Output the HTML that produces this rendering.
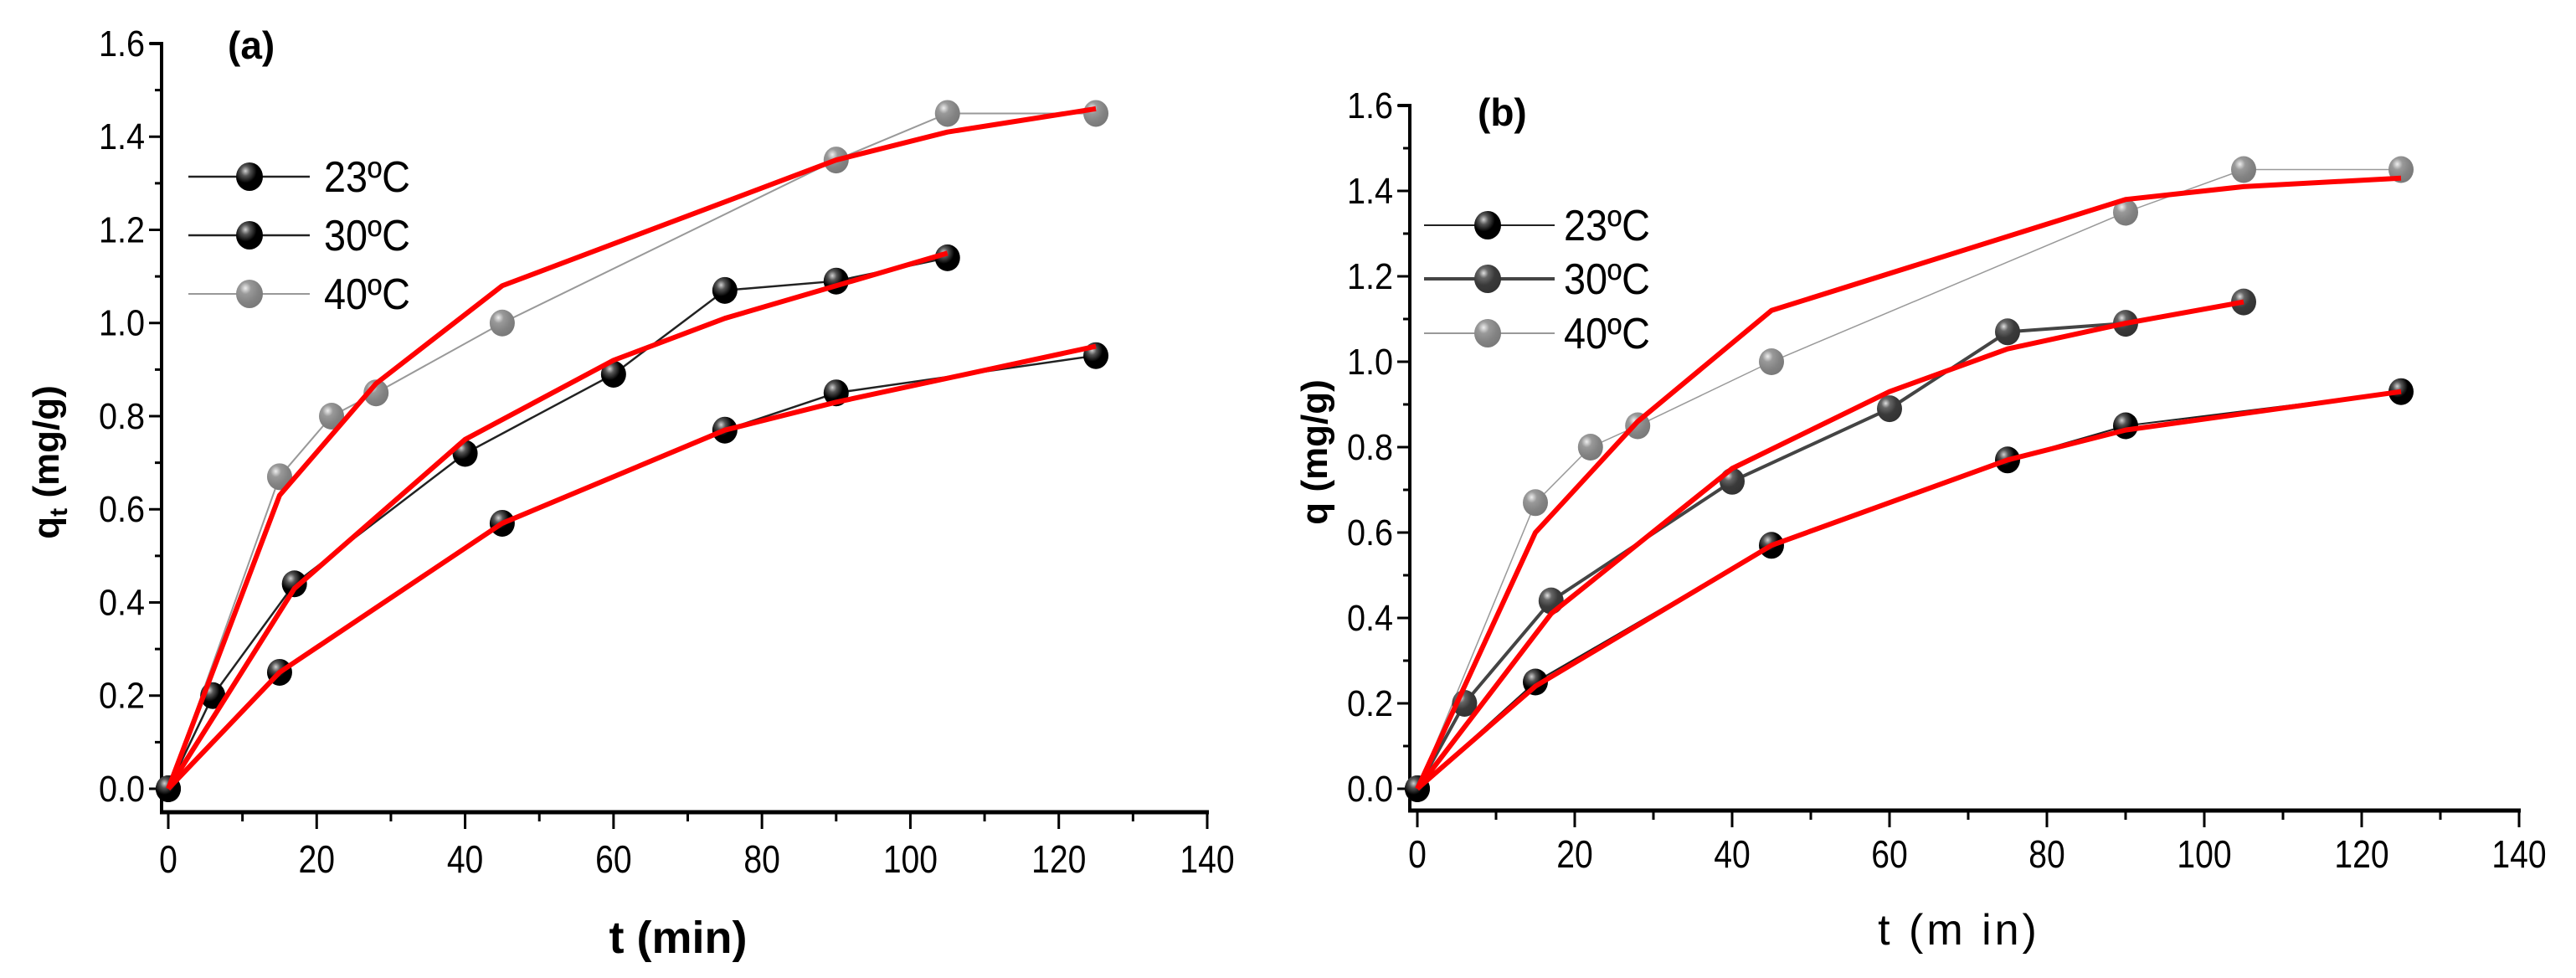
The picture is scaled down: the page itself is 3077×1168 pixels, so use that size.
<!DOCTYPE html>
<html><head><meta charset="utf-8">
<style>
html,body{margin:0;padding:0;background:#fff;}
svg{display:block;font-family:"Liberation Sans",sans-serif;}
</style></head>
<body>
<svg id="fig" width="3077" height="1168" viewBox="0 0 3077 1168" xmlns="http://www.w3.org/2000/svg">
<defs>
<radialGradient id="gBlack" cx="0.35" cy="0.3" r="0.7"><stop offset="0" stop-color="#d0d0d0"/><stop offset="0.25" stop-color="#555"/><stop offset="0.6" stop-color="#000"/><stop offset="1" stop-color="#000"/></radialGradient>
<radialGradient id="gDark" cx="0.35" cy="0.3" r="0.7"><stop offset="0" stop-color="#e0e0e0"/><stop offset="0.25" stop-color="#666"/><stop offset="0.6" stop-color="#3a3a3a"/><stop offset="1" stop-color="#333"/></radialGradient>
<radialGradient id="gGray" cx="0.35" cy="0.3" r="0.7"><stop offset="0" stop-color="#eee"/><stop offset="0.3" stop-color="#999"/><stop offset="0.7" stop-color="#838383"/><stop offset="1" stop-color="#7a7a7a"/></radialGradient>
</defs>
</svg>
<script>
// ---- data ----
const xTicks = [0,20,40,60,80,100,120,140];
const yTicks = [0.0,0.2,0.4,0.6,0.8,1.0,1.2,1.4,1.6];
const t23 = [0,15,45,75,90,125];
const q23 = [0,0.25,0.57,0.77,0.85,0.93];
const t30 = [0,6,17,40,60,75,90,105];
const q30 = [0,0.2,0.44,0.72,0.89,1.07,1.09,1.14];
const t40 = [0,15,22,28,45,90,105,125];
const q40 = [0,0.67,0.8,0.85,1.0,1.35,1.45,1.45];
const fitA23t = [0,15,45,75,90,125];
const fitA23q = [0,0.25,0.57,0.77,0.83,0.95];
const fitA30t = [0,17,40,60,75,90,105];
const fitA30q = [0,0.43,0.75,0.92,1.01,1.08,1.15];
const fitA40t = [0,15,28,45,90,105,125];
const fitA40q = [0,0.63,0.87,1.08,1.35,1.41,1.46];
const fitB23t = [0,15,45,75,90,125];
const fitB23q = [0,0.24,0.57,0.77,0.84,0.93];
const fitB30t = [0,17,40,60,75,90,105];
const fitB30q = [0,0.41,0.75,0.93,1.03,1.09,1.14];
const fitB40t = [0,15,28,45,90,105,125];
const fitB40q = [0,0.6,0.86,1.12,1.38,1.41,1.43];
const legendLabels = ["23ºC","30ºC","40ºC"];

const NS="http://www.w3.org/2000/svg";
const svg=document.getElementById('fig');
function mk(tag,attrs,parent){const e=document.createElementNS(NS,tag);for(const k in attrs)e.setAttribute(k,attrs[k]);(parent||svg).appendChild(e);return e;}

function panel(p){
  const g=mk('g',{});
  
  
  const sx=t=>p.x0+(t/140)*(p.x140-p.x0);
  const sy=q=>p.y0-(q/1.6)*(p.y0-p.y16);
  // axes
  const ya=mk('line',{x1:p.ax,y1:p.y16-2,x2:p.ax,y2:p.xaY,stroke:'#000','stroke-width':4},g);
  
  
  const xa=mk('line',{x1:p.ax-2,y1:p.xaY,x2:p.x140+2,y2:p.xaY,stroke:'#000','stroke-width':5},g);
  
  
  mk('line',{x1:p.ax-14,y1:p.y16,x2:p.ax,y2:p.y16,stroke:'#000','stroke-width':4},g);
  for(let i=0;i<yTicks.length;i++){
    const y=sy(yTicks[i]);
    mk('line',{x1:p.ax-15,y1:y,x2:p.ax,y2:y,stroke:'#000','stroke-width':3},g);
    if(i<yTicks.length-1){const ym=sy(yTicks[i]+0.1);mk('line',{x1:p.ax-8,y1:ym,x2:p.ax,y2:ym,stroke:'#000','stroke-width':3},g);}
    const tl=mk('text',{x:p.ax-20,y:y+15,'text-anchor':'end','font-size':44,fill:'#000',transform:`translate(${p.ax-20},0) scale(0.9,1) translate(${-(p.ax-20)},0)`},g);
    tl.textContent=yTicks[i].toFixed(1);
    
    
  }
  for(let i=0;i<xTicks.length;i++){
    const x=sx(xTicks[i]);
    mk('line',{x1:x,y1:p.xaY,x2:x,y2:p.xaY+20,stroke:'#000','stroke-width':3},g);
    if(i<xTicks.length-1){const xm=sx(xTicks[i]+10);mk('line',{x1:xm,y1:p.xaY,x2:xm,y2:p.xaY+11,stroke:'#000','stroke-width':3},g);}
    const tl=mk('text',{x:x,y:p.xtY,'text-anchor':'middle','font-size':46,fill:'#000',transform:`translate(${x},0) scale(0.85,1) translate(${-x},0)`},g);
    tl.textContent=xTicks[i];
    
    
  }
  // series
  const series=[
    {t:t40,q:q40,col:p.c40,w:p.w40,grad:'gGray',name:'series-40c'},
    {t:t30,q:q30,col:p.c30,w:p.w30,grad:p.g30,name:'series-30c'},
    {t:t23,q:q23,col:p.c23,w:p.w23,grad:'gBlack',name:'series-23c'}];
  for(const s of series){
    const pts=s.t.map((t,i)=>sx(t)+','+sy(s.q[i])).join(' ');
    const l=mk('polyline',{points:pts,fill:'none',stroke:s.col,'stroke-width':s.w},g);
    
    
  }
  for(const s of series){
    for(let i=0;i<s.t.length;i++){
      const m=mk('ellipse',{cx:sx(s.t[i]),cy:sy(s.q[i]),rx:15,ry:16,fill:`url(#${s.grad})`},g);
      
      
    }
  }
  const fits=[[p.f23t,p.f23q,'fit-23c'],[p.f30t,p.f30q,'fit-30c'],[p.f40t,p.f40q,'fit-40c']];
  for(const f of fits){
    const pts=f[0].map((t,i)=>sx(t)+','+sy(f[1][i])).join(' ');
    const l=mk('polyline',{points:pts,fill:'none',stroke:'#ff0000','stroke-width':6,'stroke-linejoin':'round'},g);
    
    
  }
  // legend
  const lg=mk('g',{},g);
  
  
  const lcol=[[p.c23,p.w23,'gBlack'],[p.c30,p.w30,p.g30],[p.c40,p.w40,'gGray']];
  for(let i=0;i<3;i++){
    const y=p.legY[i];
    const e=mk('g',{},lg);
    
    
    mk('line',{x1:p.legX1,y1:y,x2:p.legX2,y2:y,stroke:lcol[i][0],'stroke-width':Math.max(lcol[i][1],2)},e);
    mk('ellipse',{cx:p.legM,cy:y,rx:16,ry:17,fill:`url(#${lcol[i][2]})`},e);
    const t=mk('text',{x:p.legT,y:y+18,'font-size':52,fill:'#000',transform:`translate(${p.legT},0) scale(0.9,1) translate(${-p.legT},0)`},e);
    t.textContent=legendLabels[i];
  }
}

panel({id:'panel-a',x0:201,x140:1442,y0:942,y16:52,ax:193,xaY:970,xtY:1042,
  c23:'#222',w23:2.5,c30:'#222',w30:2.5,g30:'gBlack',c40:'#999',w40:2,
  f23t:fitA23t,f23q:fitA23q,f30t:fitA30t,f30q:fitA30q,f40t:fitA40t,f40q:fitA40q,
  legY:[211,281,351],legX1:225,legX2:370,legM:298,legT:387});
panel({id:'panel-b',x0:1693,x140:3009,y0:942,y16:126,ax:1684,xaY:968,xtY:1036,
  c23:'#222',w23:2,c30:'#444',w30:4,g30:'gDark',c40:'#999',w40:1.5,
  f23t:fitB23t,f23q:fitB23q,f30t:fitB30t,f30q:fitB30q,f40t:fitB40t,f40q:fitB40q,
  legY:[269,333,398],legX1:1701,legX2:1857,legM:1777,legT:1868});
</script>
<svg style="position:absolute;left:0;top:0" width="3077" height="1168">
<text x="272" y="70" font-family="Liberation Sans, sans-serif" font-weight="bold" font-size="46">(a)</text>
<text x="1765" y="150" font-family="Liberation Sans, sans-serif" font-weight="bold" font-size="46">(b)</text>
<text x="810" y="1138" text-anchor="middle" font-family="Liberation Sans, sans-serif" font-weight="bold" font-size="54">t (min)</text>
<text x="2340" y="1128" text-anchor="middle" font-family="Liberation Sans, sans-serif" font-size="52" letter-spacing="4">t (m in)</text>
<text transform="translate(70,552) rotate(-90)" text-anchor="middle" font-family="Liberation Sans, sans-serif" font-weight="bold" font-size="44">q<tspan font-size="30" dy="10">t</tspan><tspan dy="-10"> (mg/g)</tspan></text>
<text transform="translate(1585,540) rotate(-90)" text-anchor="middle" font-family="Liberation Sans, sans-serif" font-weight="bold" font-size="44">q (mg/g)</text>
</svg>
</body></html>
